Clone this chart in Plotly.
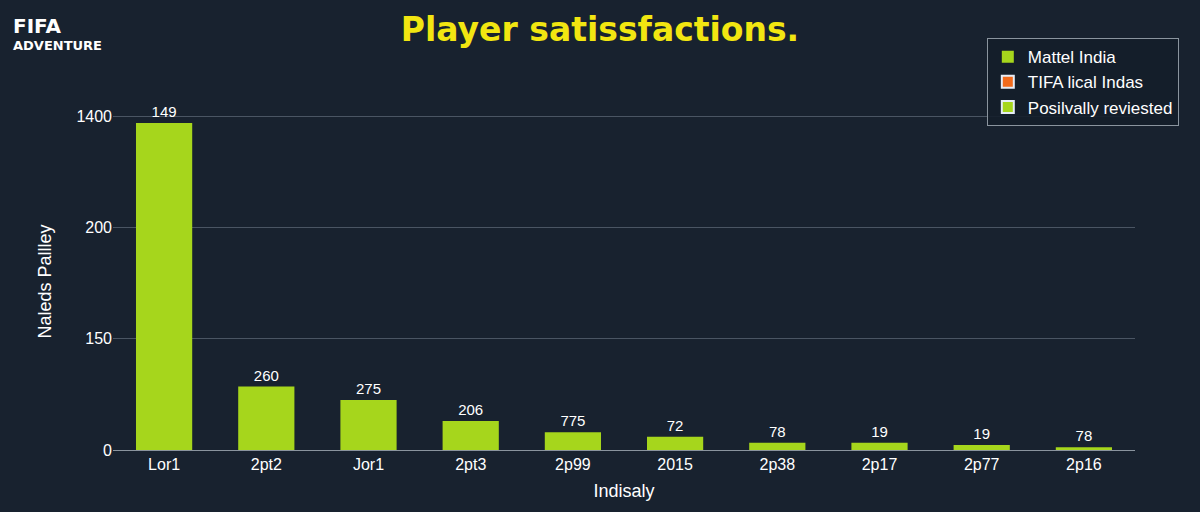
import plotly.graph_objects as go

categories = ["Lor1", "2pt2", "Jor1", "2pt3", "2p99", "2015", "2p38", "2p17", "2p77", "2p16"]
values = [2.94, 0.57, 0.45, 0.26, 0.16, 0.12, 0.065, 0.065, 0.045, 0.025]
bar_labels = ["149", "260", "275", "206", "775", "72", "78", "19", "19", "78"]
tick_vals = [0, 1, 2, 3]
tick_text = ["0", "150", "200", "1400"]
legend_names = ["Mattel India", "TIFA lical Indas", "Posilvally reviested"]
legend_colors = ["#a6d61c", "#f26a1b", "#a6d61c"]

fig = go.Figure()
fig.add_trace(go.Bar(x=categories, y=values, name=legend_names[0],
                     marker=dict(color=legend_colors[0], line=dict(width=0)),
                     text=bar_labels, textposition="outside",
                     textfont=dict(color="white", size=15, family="Liberation Sans"),
                     cliponaxis=False))
for n, c in zip(legend_names[1:], legend_colors[1:]):
    fig.add_trace(go.Bar(x=[categories[0]], y=[None], name=n, marker=dict(color=c)))

fig.update_layout(
    width=1200, height=512, barmode="overlay", bargap=0.45,
    paper_bgcolor="#18222f", plot_bgcolor="#18222f",
    margin=dict(l=113, r=65, t=113, b=62),
    font=dict(family="Liberation Sans", color="white", size=15),
    title=dict(text="<b>Player satissfactions.</b>", x=0.5, xanchor="center", y=0.965,
               font=dict(color="#f2e611", size=33, family="DejaVu Sans")),
    legend=dict(x=0.855, y=1.222, xanchor="left", yanchor="top",
                bgcolor="rgba(20,30,42,0.9)", bordercolor="#8a949e", borderwidth=1,
                font=dict(size=17, color="white"), itemsizing="constant",
                tracegroupgap=8),
    xaxis=dict(title=dict(text="Indisaly", font=dict(size=18), standoff=12),
               showgrid=False, showline=True, linecolor="#8a949e", ticks="",
               tickfont=dict(size=16)),
    yaxis=dict(title=dict(text="Naleds Pallley", font=dict(size=18), standoff=20),
               range=[0, 3.03], tickvals=tick_vals, ticktext=tick_text,
               gridcolor="#4a5563", zeroline=False, tickfont=dict(size=16), ticks=""),
)
fig.add_annotation(text="<b><span style='font-size:20px'>FIFA</span></b><br><b>ADVENTURE</b>",
                   xref="paper", yref="paper",
                   x=-0.1, y=1.3, xanchor="left", yanchor="top", showarrow=False,
                   align="left", font=dict(size=13, color="white", family="DejaVu Sans"))
fig.write_html("out.html", config={"displayModeBar": False},
               post_script="document.body.style.margin='0';document.body.style.background='#18222f';")
